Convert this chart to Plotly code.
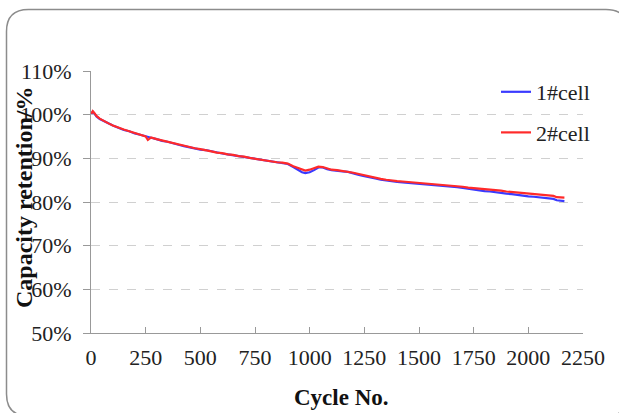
import plotly.graph_objects as go

cycles = [1, 8, 15, 25, 40, 60, 80, 100, 125, 150, 175, 200, 225, 250, 260, 275, 300, 325, 350, 375,
          400, 425, 450, 475, 500, 525, 550, 575, 600, 625, 650, 675, 700, 725, 750, 775, 800, 825, 850, 875,
          900, 925, 950, 965, 980, 1000, 1020, 1040, 1060, 1080, 1100, 1125, 1150, 1175, 1200, 1225, 1250, 1275,
          1300, 1325, 1350, 1375, 1400, 1425, 1450, 1475, 1500, 1525, 1550, 1575, 1600, 1625, 1650, 1675, 1700,
          1725, 1750, 1775, 1800, 1825, 1850, 1875, 1900, 1925, 1950, 1975, 2000, 2025, 2050, 2075, 2100, 2115,
          2130, 2150, 2165]

cell1 = [100.2, 100.7, 100.3, 99.6, 99.0, 98.5, 97.9, 97.5, 97.0, 96.5, 96.2, 95.7, 95.4, 95.0, 94.8, 94.7, 94.4, 94.0, 93.8, 93.4,
         93.1, 92.8, 92.5, 92.3, 92.0, 91.9, 91.6, 91.3, 91.1, 90.9, 90.7, 90.5, 90.3, 90.1, 89.9, 89.6, 89.4, 89.2, 89.1, 88.9,
         88.7, 88.0, 87.2, 86.8, 86.6, 86.8, 87.3, 87.9, 87.9, 87.5, 87.3, 87.1, 87.0, 86.9, 86.5, 86.2, 85.9, 85.7,
         85.4, 85.1, 84.9, 84.7, 84.6, 84.5, 84.4, 84.3, 84.2, 84.1, 84.0, 83.9, 83.8, 83.7, 83.6, 83.4, 83.2,
         83.0, 82.9, 82.7, 82.5, 82.4, 82.2, 82.1, 81.9, 81.8, 81.6, 81.4, 81.3, 81.2, 81.1, 81.0, 80.9, 80.7,
         80.4, 80.3, 80.2]

cell2 = [100.2, 100.8, 100.4, 99.7, 99.1, 98.5, 98.0, 97.5, 97.0, 96.6, 96.2, 95.8, 95.4, 95.0, 94.2, 94.8, 94.4, 94.1, 93.8, 93.4,
         93.1, 92.8, 92.6, 92.3, 92.1, 91.9, 91.6, 91.3, 91.2, 90.9, 90.8, 90.5, 90.4, 90.1, 89.9, 89.6, 89.4, 89.3, 89.1, 89.0,
         88.8, 88.2, 87.7, 87.4, 87.2, 87.4, 87.7, 88.1, 88.0, 87.7, 87.4, 87.3, 87.1, 87.0, 86.7, 86.4, 86.1, 85.9,
         85.6, 85.3, 85.1, 84.9, 84.8, 84.7, 84.6, 84.5, 84.4, 84.3, 84.2, 84.1, 84.0, 83.9, 83.8, 83.7, 83.5,
         83.3, 83.2, 83.1, 82.9, 82.8, 82.7, 82.6, 82.4, 82.3, 82.2, 82.0, 81.9, 81.8, 81.7, 81.6, 81.5, 81.4,
         81.1, 81.0, 81.0]

series_names = ["1#cell", "2#cell"]
x_ticks = [0, 250, 500, 750, 1000, 1250, 1500, 1750, 2000, 2250]
y_ticks = [50, 60, 70, 80, 90, 100, 110]
y_tick_labels = ["50%", "60%", "70%", "80%", "90%", "100%", "110%"]

FONT = "Liberation Serif, Times New Roman, serif"

fig = go.Figure()
fig.add_trace(go.Scatter(x=cycles, y=cell1, mode="lines", name=series_names[0], legendgroup="a",
                         line=dict(color="#3a3aff", width=2.2)))
fig.add_trace(go.Scatter(x=cycles, y=cell2, mode="lines", name=series_names[1], legendgroup="b",
                         line=dict(color="#ff2a2a", width=2.2)))

W, H = 619, 413
L, R, T, B = 91, 36, 71, 80
PW, PH = W - L - R, H - T - B


def px(xp):
    return (xp - L) / PW


def py(yp):
    return (H - B - yp) / PH


# rounded outer frame (pixel coordinates converted to paper)
x0, y0, x1, y1, r = 6.5, 9.5, 628, 416, 22
path = (f"M {px(x0 + r)},{py(y0)} L {px(x1 - r)},{py(y0)} Q {px(x1)},{py(y0)} {px(x1)},{py(y0 + r)} "
        f"L {px(x1)},{py(y1 - r)} Q {px(x1)},{py(y1)} {px(x1 - r)},{py(y1)} "
        f"L {px(x0 + r)},{py(y1)} Q {px(x0)},{py(y1)} {px(x0)},{py(y1 - r)} "
        f"L {px(x0)},{py(y0 + r)} Q {px(x0)},{py(y0)} {px(x0 + r)},{py(y0)} Z")
fig.add_shape(type="path", path=path, xref="paper", yref="paper",
              line=dict(color="#8c8c8c", width=1.5), layer="below")

fig.update_layout(
    width=W, height=H,
    margin=dict(l=L, r=R, t=T, b=B),
    paper_bgcolor="white", plot_bgcolor="white",
    font=dict(family=FONT, size=22, color="#222"),
    showlegend=True,
    legend=dict(x=px(496), y=py(71), xanchor="left", yanchor="top",
                bgcolor="rgba(0,0,0,0)", font=dict(family=FONT, size=22, color="#222"),
                tracegroupgap=9),
    xaxis=dict(range=[0, 2250], tickvals=x_ticks, ticks="inside", ticklen=6, tickcolor="#999",
               showline=True, linecolor="#999", linewidth=1, showgrid=False, zeroline=False,
               ticklabelstandoff=5, tickfont=dict(family=FONT, size=22, color="#222")),
    yaxis=dict(range=[50, 110], tickvals=y_ticks, ticktext=y_tick_labels, ticks="outside", ticklen=7,
               tickcolor="#999", showline=True, linecolor="#999", linewidth=1,
               showgrid=True, gridcolor="#d0d0d0", griddash="dash", gridwidth=1, zeroline=False,
               ticklabelstandoff=7, tickfont=dict(family=FONT, size=22, color="#222")),
    annotations=[
        dict(text="<b>Capacity retention/%</b>", x=px(24), y=py(197), xref="paper", yref="paper",
             textangle=-90, showarrow=False, xanchor="center", yanchor="middle",
             font=dict(family=FONT, size=24, color="#111")),
        dict(text="<b>Cycle No.</b>", x=px(341), y=py(397), xref="paper", yref="paper",
             showarrow=False, xanchor="center", yanchor="middle",
             font=dict(family=FONT, size=23, color="#111")),
    ],
)

fig.write_html("out.html", config={"displayModeBar": False},
               post_script="document.body.style.margin='0';")
